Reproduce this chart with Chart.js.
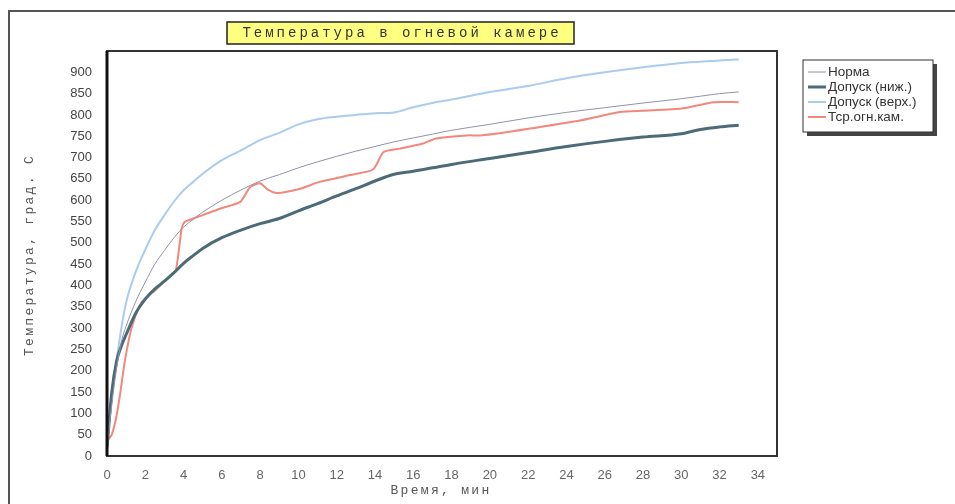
<!DOCTYPE html>
<html>
<head>
<meta charset="utf-8">
<script src="https://cdn.jsdelivr.net/npm/chart.js@4"></script>
<style>
  html, body { margin: 0; padding: 0; background: #fff; }
  #wrap { width: 955px; height: 504px; position: relative; }
</style>
</head>
<body>
<div id="wrap"><canvas id="chart" width="955" height="504"></canvas></div>
<script>
// время, мин (общая сетка для нормы и допусков)
const times = [0, 0.25, 0.5, 0.75, 1, 1.5, 2, 2.5, 3, 3.5, 4, 4.5, 5, 6, 7, 8, 9, 10, 11, 12, 13, 14, 15, 16, 17, 18, 20, 22, 24, 26, 28, 30, 31, 32, 33];
const normValues = [20, 120, 205, 268, 305, 362, 408, 450, 482, 512, 537, 555, 572, 600, 624, 645, 660, 676, 690, 703, 715, 726, 737, 746, 755, 764, 778, 793, 806, 817, 828, 838, 844, 850, 854];
const lowerValues = [20, 150, 222, 258, 285, 335, 368, 392, 410, 430, 452, 470, 487, 512, 530, 545, 557, 575, 592, 610, 627, 645, 661, 668, 676, 684, 698, 712, 726, 738, 748, 756, 766, 772, 776];
const upperValues = [30, 140, 225, 300, 360, 432, 484, 530, 565, 597, 623, 643, 662, 694, 717, 741, 758, 778, 790, 796, 800, 804, 806, 818, 828, 836, 854, 868, 886, 900, 912, 922, 925, 928, 930];

// Тср.огн.кам. — свои моменты времени
const fireTimes = [0, 0.25, 0.5, 0.7, 0.94, 1.3, 1.7, 2, 2.6, 3, 3.3, 3.6, 3.9, 4.05, 4.5, 5, 5.9, 6.96, 7.48, 8, 8.4, 8.9, 10.1, 11.1, 12.7, 13.9, 14.45, 15.3, 16.5, 17.2, 18.8, 19.5, 20.5, 22.1, 24.7, 26.8, 28, 30, 31.7, 33];
const fireValues = [35, 50, 95, 150, 225, 303, 352, 370, 392, 410, 422, 436, 533, 549, 557, 565, 580, 596, 631, 640, 625, 617, 627, 643, 659, 672, 713, 721, 733, 745, 752, 752, 757, 768, 787, 807, 810, 815, 830, 830];

const seriesNames = ["Норма", "Допуск (ниж.)", "Допуск (верх.)", "Тср.огн.кам."];
const chartTitle = "Температура в огневой камере";
const xTitle = "Время, мин";
const yTitle = "Температура, град. С";

function pts(xs, ys) {
    return xs.map((x, i) => ({ x: x, y: ys[i] }));
}

const frames = {
    id: "frames",
    beforeDraw(chart) {
        const c = chart.ctx;
        c.save();
        // внешняя рамка
        c.strokeStyle = "#555";
        c.lineWidth = 2;
        c.beginPath();
        c.moveTo(9, 504);
        c.lineTo(9, 11);
        c.lineTo(955, 11);
        c.stroke();
        c.restore();
    },
    afterDraw(chart) {
        const c = chart.ctx;
        const a = chart.chartArea;
        c.save();
        // рамка области графика
        c.strokeStyle = "#333";
        c.lineWidth = 2;
        c.strokeRect(a.left, a.top, a.right - a.left, a.bottom - a.top);
        c.lineWidth = 3;
        c.strokeStyle = "#111";
        c.beginPath();
        c.moveTo(a.left, a.top);
        c.lineTo(a.left, a.bottom);
        c.stroke();

        // заголовок
        c.fillStyle = "#ffff80";
        c.fillRect(227, 22, 347, 22);
        c.strokeStyle = "#222";
        c.lineWidth = 1.5;
        c.strokeRect(227, 22, 347, 22);
        c.fillStyle = "#333";
        c.font = "14px 'Liberation Mono', monospace";
        c.letterSpacing = "3px";
        c.textAlign = "center";
        c.textBaseline = "middle";
        c.fillText(chartTitle, 402, 33);

        // подписи осей
        c.font = "13px 'Liberation Mono', monospace";
        c.letterSpacing = "2.3px";
        c.fillStyle = "#555";
        c.fillText(xTitle, 441, 491);
        c.save();
        c.translate(30, 255);
        c.rotate(-Math.PI / 2);
        c.fillText(yTitle, 0, 0);
        c.restore();
        c.letterSpacing = "0px";

        // легенда
        const lx = 803, ly = 60, lw = 130, lh = 72;
        c.fillStyle = "#444";
        c.fillRect(lx + 4, ly + 4, lw, lh);
        c.fillStyle = "#fff";
        c.fillRect(lx, ly, lw, lh);
        c.strokeStyle = "#333";
        c.lineWidth = 1;
        c.strokeRect(lx, ly, lw, lh);
        c.font = "13.5px 'Liberation Sans', Arial, sans-serif";
        c.textAlign = "left";
        chart.data.datasets.forEach((ds, i) => {
            const y = ly + 12 + i * 15;
            c.strokeStyle = ds.borderColor;
            c.lineWidth = ds.borderWidth;
            c.beginPath();
            c.moveTo(lx + 5, y);
            c.lineTo(lx + 23, y);
            c.stroke();
            c.fillStyle = "#333";
            c.fillText(ds.label, lx + 25, y);
        });
        c.restore();
    }
};

const ctx = document.getElementById("chart").getContext("2d");
new Chart(ctx, {
    type: "line",
    data: {
        datasets: [
            { label: seriesNames[0], data: pts(times, normValues), borderColor: "#8e94a6", borderWidth: 1, cubicInterpolationMode: "monotone" },
            { label: seriesNames[1], data: pts(times, lowerValues), borderColor: "#4c6b78", borderWidth: 3, cubicInterpolationMode: "monotone" },
            { label: seriesNames[2], data: pts(times, upperValues), borderColor: "#a9ccef", borderWidth: 2, cubicInterpolationMode: "monotone" },
            { label: seriesNames[3], data: pts(fireTimes, fireValues), borderColor: "#f2877c", borderWidth: 2, tension: 0.2 }
        ]
    },
    options: {
        responsive: false,
        animation: false,
        elements: { point: { radius: 0 } },
        layout: { padding: { left: 10, top: 51, right: 178, bottom: 0 } },
        plugins: {
            legend: { display: false },
            title: { display: false },
            tooltip: { enabled: false }
        },
        scales: {
            x: {
                type: "linear",
                min: 0,
                max: 35,
                grid: { display: false },
                border: { display: false },
                ticks: {
                    stepSize: 2,
                    includeBounds: false,
                    padding: 4,
                    color: "#666",
                    font: { family: "'Liberation Sans', Arial, sans-serif", size: 13 },
                    maxRotation: 0
                },
                afterFit: s => { s.height = 48; }
            },
            y: {
                min: 0,
                max: 950,
                grid: { display: false },
                border: { display: false },
                ticks: {
                    stepSize: 50,
                    padding: 7,
                    color: "#444",
                    font: { family: "'Liberation Sans', Arial, sans-serif", size: 13 }
                },
                afterBuildTicks: s => { s.ticks = s.ticks.filter(t => t.value <= 900); },
                afterFit: s => { s.width = 97; }
            }
        }
    },
    plugins: [frames]
});
</script>
</body>
</html>
